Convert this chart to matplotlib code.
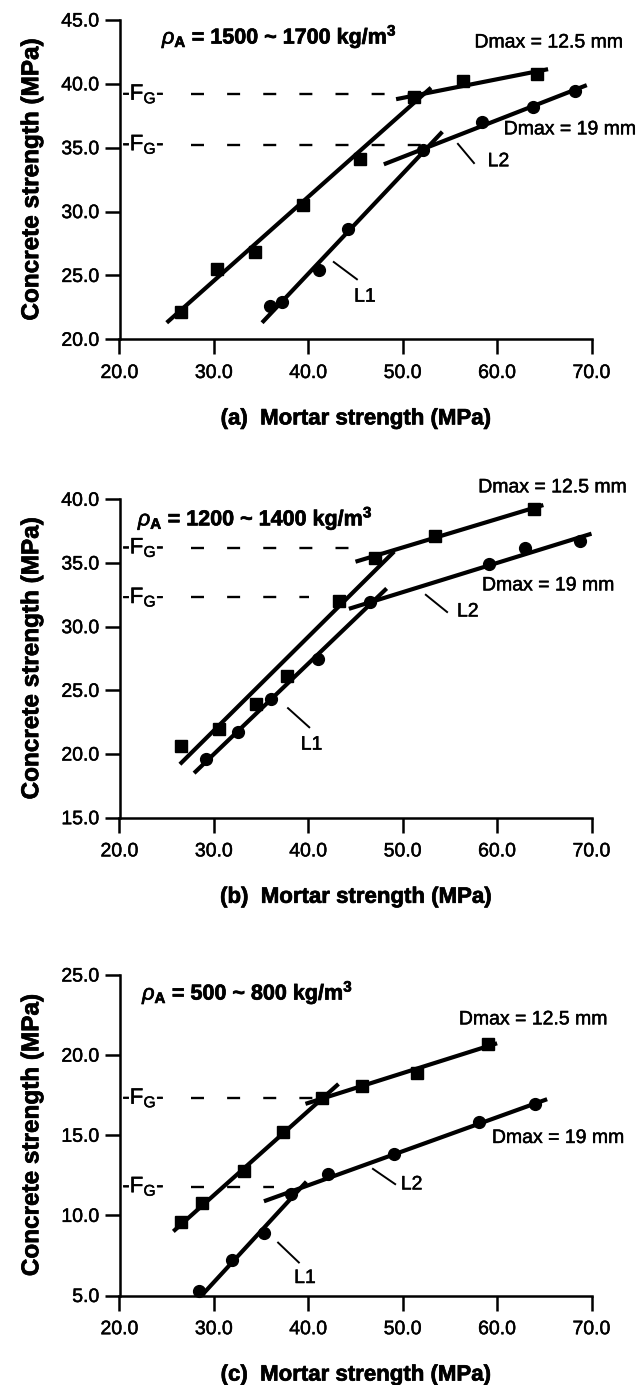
import matplotlib
matplotlib.use("Agg")
import matplotlib.pyplot as plt
import matplotlib.patheffects as pe
from matplotlib.ticker import FormatStrFormatter

plt.rcParams["font.family"] = ["Liberation Sans", "DejaVu Sans"]
plt.rcParams["mathtext.fontset"] = "custom"
plt.rcParams["mathtext.rm"] = "Liberation Sans"
plt.rcParams["mathtext.it"] = "Liberation Sans:italic"
plt.rcParams["mathtext.bf"] = "Liberation Sans:bold"


# --- Data -----------------------------------------------------------
# mortar strength (x) vs concrete strength (y), MPa
# squares: Dmax = 12.5 mm, circles: Dmax = 19 mm

# (a) rho_A = 1500 ~ 1700 kg/m3
A_SQ_X = [26.5, 30.3, 34.4, 39.4, 45.5, 51.2, 56.4, 64.2]
A_SQ_Y = [22.1, 25.5, 26.85, 30.5, 34.1, 39.0, 40.2, 40.8]
A_CI_X = [35.9, 37.2, 41.1, 44.2, 52.1, 58.4, 63.8, 68.3]
A_CI_Y = [22.6, 22.95, 25.4, 28.6, 34.8, 37.0, 38.2, 39.45]
A_SQ_FIT = [([25.0, 53.0], [21.3, 39.7]), ([49.3, 65.4], [38.8, 41.15])]
A_CI_FIT = [([35.1, 54.2], [21.3, 36.25]), ([48.0, 69.5], [33.7, 39.9])]
A_FG = [39.2, 35.25]

# (b) rho_A = 1200 ~ 1400 kg/m3
B_SQ_X = [26.5, 30.5, 34.5, 37.7, 43.2, 47.1, 53.4, 63.9]
B_SQ_Y = [20.6, 22.0, 23.9, 26.1, 32.0, 35.4, 37.1, 39.2]
B_CI_X = [29.2, 32.5, 36.1, 41.0, 46.5, 59.1, 63.0, 68.8]
B_CI_Y = [19.6, 21.7, 24.3, 27.5, 31.9, 34.9, 36.15, 36.7]
B_SQ_FIT = [([26.4, 49.1], [19.2, 35.9]), ([45.0, 64.9], [35.1, 39.55])]
B_CI_FIT = [([27.9, 48.3], [18.5, 33.0]), ([44.3, 70.0], [31.4, 37.3])]
B_FG = [36.2, 32.3]

# (c) rho_A = 500 ~ 800 kg/m3
C_SQ_X = [26.5, 28.7, 33.2, 37.3, 41.4, 45.7, 51.5, 59.0]
C_SQ_Y = [9.57, 10.77, 12.8, 15.18, 17.3, 18.1, 18.9, 20.7]
C_CI_X = [28.4, 31.9, 35.3, 38.2, 42.1, 49.1, 58.1, 64.0]
C_CI_Y = [5.27, 7.2, 8.9, 11.36, 12.58, 13.83, 15.8, 16.94]
C_SQ_FIT = [([25.7, 43.2], [9.0, 18.2]), ([39.7, 60.0], [16.96, 20.74])]
C_CI_FIT = [([28.7, 39.8], [5.0, 12.1]), ([35.3, 65.3], [10.88, 17.25])]
C_FG = [17.32, 11.8]

DENSITY = ["1500 ~ 1700", "1200 ~ 1400", "500 ~ 800"]
TAGS = ["(a)", "(b)", "(c)"]
YTICKS = [[20, 25, 30, 35, 40, 45], [15, 20, 25, 30, 35, 40], [5, 10, 15, 20, 25]]
XTICKS = [20, 30, 40, 50, 60, 70]

# slightly heavier strokes for the text
HEAVY = [pe.withStroke(linewidth=0.35, foreground="black")]
HEAVY_BOLD = [pe.withStroke(linewidth=0.5, foreground="black")]


# --- Drawing --------------------------------------------------------

def draw_panel(ax, sq, ci, sq_fit, ci_fit, fg, yticks, tag, density, lay):
    for xs, ys in sq_fit + ci_fit:
        ax.plot(xs, ys, color="black", lw=3.0, solid_capstyle="butt", zorder=3)
    ax.plot(sq[0], sq[1], ls="none", marker="s", ms=9, color="black", zorder=4, clip_on=False)
    ax.plot(ci[0], ci[1], ls="none", marker="o", ms=8.5, color="black", zorder=4, clip_on=False)

    # F_G reference levels
    for level, x_end in zip(fg, lay["fg_end"]):
        ax.plot([27.6, x_end], [level, level], color="black", lw=1.7,
                dashes=(5.5, 9.8), zorder=2)
        ax.text(20.3, level, r"-F$_{\mathrm{G}}$-", fontsize=16, ha="left", va="center",
                path_effects=HEAVY)

    ax.text(*lay["rho"], r"$\rho_{\mathbf{A}}$ = " + density + r" kg/m$^{\mathbf{3}}$",
            fontsize=15.5, fontweight="bold", ha="left", va="center", path_effects=HEAVY_BOLD)
    ax.text(*lay["d125"], "Dmax = 12.5 mm", fontsize=14, ha="left", va="center",
            path_effects=HEAVY)
    ax.text(*lay["d19"], "Dmax = 19 mm", fontsize=14, ha="left", va="center",
            path_effects=HEAVY)

    for name in ["L1", "L2"]:
        (x0, y0), (x1, y1) = lay[name + "_lead"]
        ax.plot([x0, x1], [y0, y1], color="black", lw=1.4)
        ax.text(*lay[name], name, fontsize=14, ha="left", va="center", path_effects=HEAVY)

    ax.set_xlim(20, 70)
    ax.set_ylim(yticks[0], yticks[-1])
    ax.set_xticks(XTICKS)
    ax.set_yticks(yticks)
    ax.xaxis.set_major_formatter(FormatStrFormatter("%.1f"))
    ax.yaxis.set_major_formatter(FormatStrFormatter("%.1f"))
    ax.tick_params(direction="out", length=10.5, width=1.8, labelsize=14)
    ax.tick_params(axis="x", pad=8)
    ax.tick_params(axis="y", pad=4)
    for lbl in ax.get_xticklabels() + ax.get_yticklabels():
        lbl.set_path_effects(HEAVY)
    for s in ["top", "right"]:
        ax.spines[s].set_visible(False)
    for s in ["left", "bottom"]:
        ax.spines[s].set_linewidth(1.8)

    xl = ax.set_xlabel(tag + "  Mortar strength (MPa)", fontsize=16, fontweight="bold", labelpad=19)
    yl = ax.set_ylabel("Concrete strength (MPa)", fontsize=17.5, fontweight="bold", labelpad=13)
    xl.set_path_effects(HEAVY_BOLD)
    yl.set_path_effects(HEAVY_BOLD)


def main():
    W, H = 643, 1385
    fig = plt.figure(figsize=(W / 100, H / 100), dpi=100)
    fig.patch.set_facecolor("white")

    # axes boxes in pixels: (top, bottom)
    boxes = [(20.0, 339.3), (499.3, 817.7), (975.0, 1295.5)]
    left, right = 119.5, 591.5

    layouts = [
        dict(rho=(24.5, 43.7), d125=(57.6, 43.2), d19=(60.7, 36.4),
             L2=(59.0, 33.9), L2_lead=((55.85, 35.3), (57.55, 33.8)),
             L1=(44.85, 23.3), L1_lead=((42.7, 26.05), (45.15, 24.7)),
             fg_end=[50.8, 52.0]),
        dict(rho=(21.95, 38.5), d125=(58.0, 40.9), d19=(58.4, 33.2),
             L2=(55.75, 31.15), L2_lead=((52.45, 32.5), (54.7, 31.15)),
             L1=(39.2, 20.7), L1_lead=((37.85, 23.6), (40.1, 22.1)),
             fg_end=[44.9, 40.1]),
        dict(rho=(22.4, 23.9), d125=(55.95, 22.2), d19=(59.45, 14.8),
             L2=(49.8, 11.9), L2_lead=((46.85, 12.9), (49.2, 11.95)),
             L1=(38.5, 6.06), L1_lead=((36.8, 8.3), (39.0, 7.06)),
             fg_end=[40.5, 36.35]),
    ]

    panels = [
        ((A_SQ_X, A_SQ_Y), (A_CI_X, A_CI_Y), A_SQ_FIT, A_CI_FIT, A_FG),
        ((B_SQ_X, B_SQ_Y), (B_CI_X, B_CI_Y), B_SQ_FIT, B_CI_FIT, B_FG),
        ((C_SQ_X, C_SQ_Y), (C_CI_X, C_CI_Y), C_SQ_FIT, C_CI_FIT, C_FG),
    ]

    for i, (top, bottom) in enumerate(boxes):
        ax = fig.add_axes([left / W, 1 - bottom / H, (right - left) / W, (bottom - top) / H])
        sq, ci, sq_fit, ci_fit, fg = panels[i]
        draw_panel(ax, sq, ci, sq_fit, ci_fit, fg, YTICKS[i], TAGS[i], DENSITY[i], layouts[i])

    fig.savefig("out.png", dpi=100, facecolor="white")


if __name__ == "__main__":
    main()
